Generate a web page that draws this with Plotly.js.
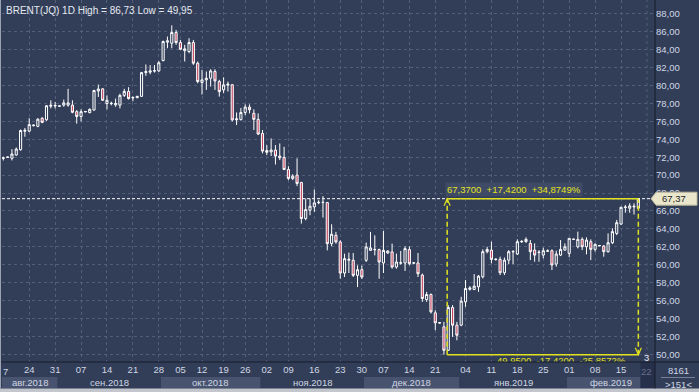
<!DOCTYPE html>
<html>
<head>
<meta charset="utf-8">
<script src="https://cdn.plot.ly/plotly-3.0.1.min.js"></script>
<style>html,body{margin:0;padding:0;background:#323e58;}#chart{width:699px;height:392px;}</style>
</head>
<body>
<div id="chart"></div>
<script>
// ---------- DATA ----------
const symbolName = 'BRENT(JQ)';
const timeframe = '1D';
const dates = [
'2018-08-17','2018-08-19','2018-08-20','2018-08-21','2018-08-22','2018-08-23','2018-08-24',
'2018-08-26','2018-08-27','2018-08-28','2018-08-29','2018-08-30','2018-08-31',
'2018-09-02','2018-09-03','2018-09-04','2018-09-05','2018-09-06','2018-09-07',
'2018-09-09','2018-09-10','2018-09-11','2018-09-12','2018-09-13','2018-09-14',
'2018-09-16','2018-09-17','2018-09-18','2018-09-19','2018-09-20','2018-09-21',
'2018-09-23','2018-09-24','2018-09-25','2018-09-26','2018-09-27','2018-09-28',
'2018-10-01','2018-10-02','2018-10-03','2018-10-04','2018-10-05',
'2018-10-08','2018-10-09','2018-10-10','2018-10-11','2018-10-12',
'2018-10-15','2018-10-16','2018-10-17','2018-10-18','2018-10-19',
'2018-10-22','2018-10-23','2018-10-24','2018-10-25','2018-10-26',
'2018-10-29','2018-10-30','2018-10-31','2018-11-01','2018-11-02',
'2018-11-05','2018-11-06','2018-11-07','2018-11-08','2018-11-09',
'2018-11-11','2018-11-12','2018-11-13','2018-11-14','2018-11-15','2018-11-16',
'2018-11-18','2018-11-19','2018-11-20','2018-11-21','2018-11-22','2018-11-23',
'2018-11-26','2018-11-27','2018-11-28','2018-11-29','2018-11-30',
'2018-12-03','2018-12-04','2018-12-05','2018-12-06','2018-12-07',
'2018-12-09','2018-12-10','2018-12-11','2018-12-12','2018-12-13','2018-12-14',
'2018-12-16','2018-12-17','2018-12-18','2018-12-19','2018-12-20','2018-12-21',
'2018-12-23','2018-12-24','2018-12-26','2018-12-27','2018-12-28',
'2019-01-03','2019-01-04',
'2019-01-06','2019-01-07','2019-01-08','2019-01-09','2019-01-10','2019-01-11',
'2019-01-13','2019-01-14','2019-01-15','2019-01-16','2019-01-17','2019-01-18',
'2019-01-20','2019-01-21','2019-01-22','2019-01-23','2019-01-24','2019-01-25',
'2019-01-27','2019-01-28','2019-01-29','2019-01-30','2019-01-31','2019-02-01',
'2019-02-03','2019-02-04','2019-02-05','2019-02-06','2019-02-07','2019-02-08',
'2019-02-10','2019-02-11','2019-02-12','2019-02-13','2019-02-14','2019-02-15',
'2019-02-17','2019-02-18','2019-02-19','2019-02-20'
];
const open = [
71.88,71.98,71.89,72.25,72.84,74.90,74.91,75.52,75.45,76.36,76.18,77.70,77.72,77.69,77.82,77.82,77.82,77.09,76.55,77.07,
76.98,77.27,79.40,79.64,78.00,77.98,77.85,77.82,78.91,79.35,78.62,78.65,78.80,81.45,81.50,81.62,81.64,82.80,84.85,84.73,
85.93,84.81,83.90,83.80,84.81,82.50,80.34,80.64,80.82,81.57,80.45,79.52,80.05,80.10,76.30,76.20,77.00,77.60,76.90,76.23,
74.66,72.75,72.60,72.80,72.13,71.98,70.63,69.63,70.00,69.18,65.15,66.08,66.46,66.92,66.94,66.94,62.35,63.28,62.54,59.07,
60.49,60.49,58.81,59.44,60.49,61.60,61.66,61.68,60.19,61.31,61.42,59.74,60.17,60.19,61.68,60.17,60.19,58.84,56.11,56.67,
54.62,53.48,53.05,50.44,55.22,53.24,53.24,55.85,57.25,57.23,57.53,58.65,61.45,61.63,60.57,60.59,59.10,60.51,61.43,61.19,
62.55,62.57,62.38,61.63,61.35,61.07,61.50,61.56,60.07,61.07,61.63,61.26,62.81,62.00,62.83,62.00,62.57,61.71,62.10,62.08,
61.45,62.45,63.49,64.54,66.39,66.30,66.45,66.30
];
const high = [
72.07,72.05,72.90,73.09,75.09,75.27,76.36,75.65,76.36,76.45,77.82,78.36,78.18,77.76,78.44,79.64,78.36,77.27,77.35,77.15,
77.45,79.53,80.11,79.70,78.91,78.20,78.55,79.09,79.64,79.82,78.80,78.85,81.53,82.36,82.29,82.29,82.73,85.03,85.48,86.73,
86.22,85.10,84.55,85.29,85.10,82.69,81.76,81.57,81.83,81.83,80.64,80.93,80.45,80.15,77.00,77.50,77.90,77.90,77.35,76.90,
75.04,73.36,74.10,73.36,73.54,73.17,71.00,70.10,71.87,69.25,67.39,67.39,68.40,67.20,67.65,67.01,64.51,63.66,62.72,61.23,
61.34,61.31,59.93,59.90,62.46,63.66,63.28,61.79,63.77,61.60,62.35,61.23,61.53,62.05,62.05,60.30,61.31,59.00,56.97,56.78,
54.92,53.55,53.61,55.48,55.48,53.61,56.41,58.28,57.60,58.95,58.84,61.71,62.00,62.57,60.70,60.89,60.80,61.63,61.63,62.83,
62.75,63.05,62.75,62.38,61.63,61.90,61.71,61.71,61.56,62.75,62.38,62.94,62.90,63.69,63.05,63.05,62.83,62.38,62.20,62.19,
63.49,64.06,65.00,66.48,66.67,66.85,66.85,67.45
];
const low = [
71.64,71.95,71.64,72.18,72.73,74.29,74.80,75.45,75.35,75.80,76.07,77.45,77.45,77.66,77.64,77.64,76.91,75.75,76.00,77.00,
76.91,77.20,78.73,78.30,77.35,77.80,77.64,77.45,78.73,78.44,78.25,78.60,78.73,81.09,81.27,81.45,81.53,82.70,84.17,84.17,
84.55,83.99,82.69,83.62,82.31,80.26,79.00,79.52,79.89,79.52,78.77,79.15,79.33,76.00,75.60,76.10,76.70,76.90,75.04,74.48,
72.43,72.24,72.13,71.19,71.68,70.56,69.44,69.44,68.77,64.59,64.96,65.52,65.90,66.75,65.26,61.60,62.05,62.35,58.43,58.62,
59.07,58.62,57.50,58.40,60.30,61.53,61.04,58.43,59.07,61.20,59.55,59.55,60.00,59.29,59.93,60.05,58.62,55.85,55.85,54.54,
52.68,53.40,49.95,50.37,51.93,51.56,53.13,55.29,57.10,57.16,56.97,58.46,61.26,60.14,60.45,58.84,58.84,60.07,60.07,61.07,
62.45,62.45,60.51,60.33,60.33,60.70,61.45,59.40,59.77,60.96,61.56,60.84,62.75,61.82,61.63,61.15,60.51,61.45,62.05,60.89,
61.34,62.30,63.30,64.43,65.80,65.80,65.60,66.20
];
const close = [
71.92,72.02,72.36,72.91,74.98,75.00,75.64,75.58,76.25,75.89,77.75,77.80,77.78,77.73,78.07,78.07,77.02,76.55,77.09,77.11,
77.35,79.45,79.62,78.36,78.36,78.02,78.00,78.91,79.35,78.55,78.67,78.80,81.45,81.56,81.64,81.66,82.55,84.92,85.00,85.93,
84.81,84.06,84.10,84.81,82.50,80.45,80.64,80.82,81.64,80.52,79.33,80.08,80.15,76.17,76.20,77.00,77.60,77.30,76.23,74.59,
72.69,72.55,72.80,72.13,71.94,70.63,69.63,69.89,69.07,65.15,66.16,66.53,66.90,66.96,66.96,62.35,63.40,62.54,59.07,60.67,
60.60,58.81,59.44,58.62,61.98,61.87,61.70,60.30,61.60,61.53,59.74,60.30,60.21,61.79,60.11,60.21,58.99,56.22,56.67,54.73,
53.50,53.52,50.44,55.22,53.24,52.12,55.93,57.34,57.40,57.60,58.72,61.45,61.70,60.59,60.61,59.10,60.51,61.45,61.47,62.57,
62.59,62.83,61.45,61.07,61.39,61.56,61.54,59.96,61.19,61.71,62.00,62.94,62.85,62.83,62.00,62.75,61.71,62.27,62.14,61.45,
62.45,63.69,64.69,66.41,66.43,66.56,66.52,67.37
];
const tickDates = ['2018-08-24','2018-08-31','2018-09-07','2018-09-14','2018-09-21','2018-09-28',
'2018-10-05','2018-10-12','2018-10-19','2018-10-26','2018-11-02','2018-11-09','2018-11-16','2018-11-23','2018-11-30',
'2018-12-07','2018-12-14','2018-12-21','2019-01-04','2019-01-11','2019-01-18','2019-01-25',
'2019-02-01','2019-02-08','2019-02-15'];
const clippedFirstTick = '7';          // "17" of Aug 17, cut by the left edge
const futureTickLabel = '22';          // Feb 22, beyond the last bar
const monthNames = ['янв','фев','мар','апр','май','июн','июл','авг','сен','окт','ноя','дек'];
const infoTop = '8161';
const infoBottom = '>151<';
const cornerMark = '3';

// ---------- STYLE ----------
const FONT = 'Liberation Sans, Arial, sans-serif';
const BG = '#323e58';
const GRID = '#515d79';
const TXT = '#cfd6e4';
const YEL = '#e2e21e';
const W = 699, H = 392, ML = 2, MR = 44, MB = 30;
const PW = W - ML - MR, PH = H - MB;
const Y_RANGE = [49.13, 89.56];
const px = v => (v - ML) / PW;          // pixel x -> paper
const py = v => (PH - v) / PH;          // pixel y -> paper
const pxPerUnitY = PH / (Y_RANGE[1] - Y_RANGE[0]);

// ---------- DERIVED ----------
const xs = dates.map((d, i) => i);
const lastIdx = xs.length - 1;
const lastClose = close[lastIdx];
const maxHigh = Math.max(...high);
const minLow = Math.min(...low);
const lowIdx = low.indexOf(minLow);
const fmt = (v, n) => v.toFixed(n).replace('.', ',');
const diff = lastClose - minLow;
const tickvals = tickDates.map(d => dates.indexOf(d));
const ticktext = tickDates.map(d => d.slice(8));

// month bands
const months = [];
dates.forEach((d, i) => {
  const key = d.slice(0, 7);
  if (!months.length || months[months.length - 1].key !== key) months.push({key, start: i, end: i});
  else months[months.length - 1].end = i;
});
const xRange = [-0.3, 150.86];

const shapes = [];
const annotations = [];

months.forEach((m, k) => {
  const x0 = k === 0 ? xRange[0] : m.start - 0.5;
  const x1 = m.end + 0.5;
  if (k % 2 === 0) {
    shapes.push({type: 'rect', xref: 'x', yref: 'paper', x0, x1, y0: py(388), y1: py(377),
      fillcolor: '#48546f', line: {width: 0}, layer: 'below'});
  }
  const labelEnd = k === months.length - 1 ? xRange[1] : x1;
  const [yy, mm] = m.key.split('-');
  annotations.push({xref: 'x', yref: 'paper', x: (x0 + labelEnd) / 2, y: py(382.5), yanchor: 'middle',
    text: monthNames[+mm - 1] + '.' + yy, showarrow: false, font: {family: FONT, size: 9.5, color: TXT}});
});
// future area in the time axis
shapes.push({type: 'rect', xref: 'x', yref: 'paper', x0: lastIdx + 0.5, x1: xRange[1], y0: py(388), y1: py(362),
  fillcolor: '#27304a', line: {width: 0}, layer: 'below'});
// grid line of the future tick
shapes.push({type: 'line', xref: 'x', yref: 'paper', x0: lastIdx + 2, x1: lastIdx + 2, y0: 0, y1: 1,
  line: {color: GRID, width: 1, dash: '3px,3px'}, layer: 'below'});
// frame
shapes.push({type: 'rect', xref: 'paper', yref: 'paper', x0: px(-1), x1: px(700), y0: py(393), y1: py(388.5),
  fillcolor: '#c3c6cc', line: {width: 0}});
shapes.push({type: 'line', xref: 'paper', yref: 'paper', x0: px(-1), x1: px(700), y0: 0, y1: 0,
  line: {color: '#141a28', width: 1}});
shapes.push({type: 'line', xref: 'paper', yref: 'paper', x0: 1, x1: 1, y0: py(388.5), y1: 1,
  line: {color: '#141a28', width: 1}});
shapes.push({type: 'line', xref: 'paper', yref: 'paper', x0: px(0.5), x1: px(0.5), y0: py(388.5), y1: 1,
  line: {color: '#9aa2b4', width: 1}});
shapes.push({type: 'line', xref: 'paper', yref: 'paper', x0: px(661), x1: px(695), y0: py(377.5), y1: py(377.5),
  line: {color: '#76809a', width: 1}});
// current price line
shapes.push({type: 'line', xref: 'paper', yref: 'y', x0: 0, x1: 1, y0: lastClose, y1: lastClose,
  line: {color: '#ffffff', width: 1, dash: '3px,2px'}});
// measurement box
const mx0 = lowIdx + 0.75;
shapes.push({type: 'line', xref: 'x', yref: 'y', x0: mx0, x1: lastIdx, y0: lastClose, y1: lastClose, line: {color: YEL, width: 1.5}});
shapes.push({type: 'line', xref: 'x', yref: 'y', x0: mx0, x1: lastIdx, y0: minLow, y1: minLow, line: {color: YEL, width: 1.5}});
shapes.push({type: 'line', xref: 'x', yref: 'y', x0: mx0, x1: mx0, y0: minLow, y1: lastClose, line: {color: YEL, width: 1.5, dash: '5px,3px'}});
shapes.push({type: 'line', xref: 'x', yref: 'y', x0: lastIdx, x1: lastIdx, y0: minLow, y1: lastClose, line: {color: YEL, width: 1.5, dash: '5px,3px'}});
shapes.push({type: 'path', xref: 'x', yref: 'y', xsizemode: 'pixel', ysizemode: 'pixel', xanchor: mx0, yanchor: lastClose,
  path: 'M -3,-7 L 0,0 L 3,-7', line: {color: YEL, width: 1.2}});
shapes.push({type: 'path', xref: 'x', yref: 'y', xsizemode: 'pixel', ysizemode: 'pixel', xanchor: lastIdx, yanchor: minLow,
  path: 'M -3,7 L 0,0 L 3,7', line: {color: YEL, width: 1.2}});
// price tag on the scale
shapes.push({type: 'path', xref: 'paper', yref: 'y', ysizemode: 'pixel', yanchor: lastClose,
  path: `M ${px(651)},0 L ${px(656)},6.5 L ${px(697)},6.5 L ${px(697)},-6.5 L ${px(656)},-6.5 Z`,
  fillcolor: '#e9e6cb', line: {color: '#b9b69c', width: 1}});

annotations.push({xref: 'paper', yref: 'paper', x: px(4), y: py(11), xanchor: 'left', yanchor: 'middle', showarrow: false,
  text: `${symbolName} ${timeframe} High = ${fmt(maxHigh, 2)} Low = ${fmt(minLow, 2)}`,
  font: {family: FONT, size: 10, color: '#e6e9f0'}});
annotations.push({xref: 'x', yref: 'y', x: mx0, y: lastClose, xanchor: 'left', yanchor: 'bottom', yshift: 2, xshift: -2,
  showarrow: false, bgcolor: '#3f4b66', borderpad: 1,
  text: `${fmt(lastClose, 4)}  +${fmt(diff, 4)}  +${fmt(diff / minLow * 100, 4)}%`,
  font: {family: FONT, size: 9.5, color: YEL}});
annotations.push({xref: 'paper', yref: 'y', x: px(660), y: lastClose, xanchor: 'left', yanchor: 'middle', showarrow: false,
  text: fmt(lastClose, 2), font: {family: FONT, size: 9.5, color: '#252525'}});
annotations.push({xref: 'paper', yref: 'paper', x: px(678), y: py(370.5), xanchor: 'center', yanchor: 'middle', showarrow: false,
  text: infoTop, font: {family: FONT, size: 9.5, color: TXT}});
annotations.push({xref: 'paper', yref: 'paper', x: px(678), y: py(384), xanchor: 'center', yanchor: 'middle', showarrow: false,
  text: infoBottom, font: {family: FONT, size: 9.5, color: TXT}});
annotations.push({xref: 'paper', yref: 'paper', x: px(646), y: py(357.5), xanchor: 'center', yanchor: 'middle', showarrow: false,
  text: cornerMark, font: {family: FONT, size: 9.5, color: '#e8ecf4'}});
annotations.push({xref: 'x', yref: 'paper', x: lastIdx + 2, y: py(371), xanchor: 'center', yanchor: 'middle', showarrow: false,
  text: futureTickLabel, font: {family: FONT, size: 9.5, color: '#65718c'}});
annotations.push({xref: 'paper', yref: 'paper', x: px(1), y: py(371), xanchor: 'left', yanchor: 'middle', showarrow: false,
  text: clippedFirstTick, font: {family: FONT, size: 9.5, color: TXT}});

// lower measurement label: sits just under the low line and is cut by the plot edge
const lowLabelY = minLow - 2.5 / pxPerUnitY;
const traces = [
  {type: 'candlestick', x: xs, open, high, low, close, whiskerwidth: 0, hoverinfo: 'none',
   increasing: {line: {color: '#ffffff', width: 1}, fillcolor: BG},
   decreasing: {line: {color: '#ffffff', width: 1}, fillcolor: '#c4445f'}},
  {type: 'scatter', mode: 'text', x: [lastIdx - 3], y: [lowLabelY], cliponaxis: true, hoverinfo: 'none',
   text: [`${fmt(minLow, 4)}  -${fmt(diff, 4)}  -${fmt(diff / lastClose * 100, 4)}%`],
   textposition: 'bottom left', textfont: {family: FONT, size: 9.5, color: YEL}}
];

const layout = {
  width: W, height: H, margin: {l: ML, r: MR, t: 0, b: MB, pad: 0},
  paper_bgcolor: BG, plot_bgcolor: BG, separators: ', ', showlegend: false, dragmode: false,
  xaxis: {type: 'linear', range: xRange, tickmode: 'array', tickvals, ticktext, showgrid: true, gridcolor: GRID,
    griddash: '3px,3px', gridwidth: 1, zeroline: false, showline: false, ticks: '',
    tickfont: {family: FONT, size: 9.5, color: TXT}, rangeslider: {visible: false}, fixedrange: true},
  yaxis: {side: 'right', range: Y_RANGE, tick0: 50, dtick: 2, tickformat: '.2f', showgrid: true,
    gridcolor: GRID, griddash: '3px,3px', zeroline: false, showline: false, ticks: '',
    tickfont: {family: FONT, size: 9.5, color: TXT}, fixedrange: true},
  shapes, annotations
};

Plotly.newPlot('chart', traces, layout, {staticPlot: true, displayModeBar: false});
</script>
</body>
</html>
